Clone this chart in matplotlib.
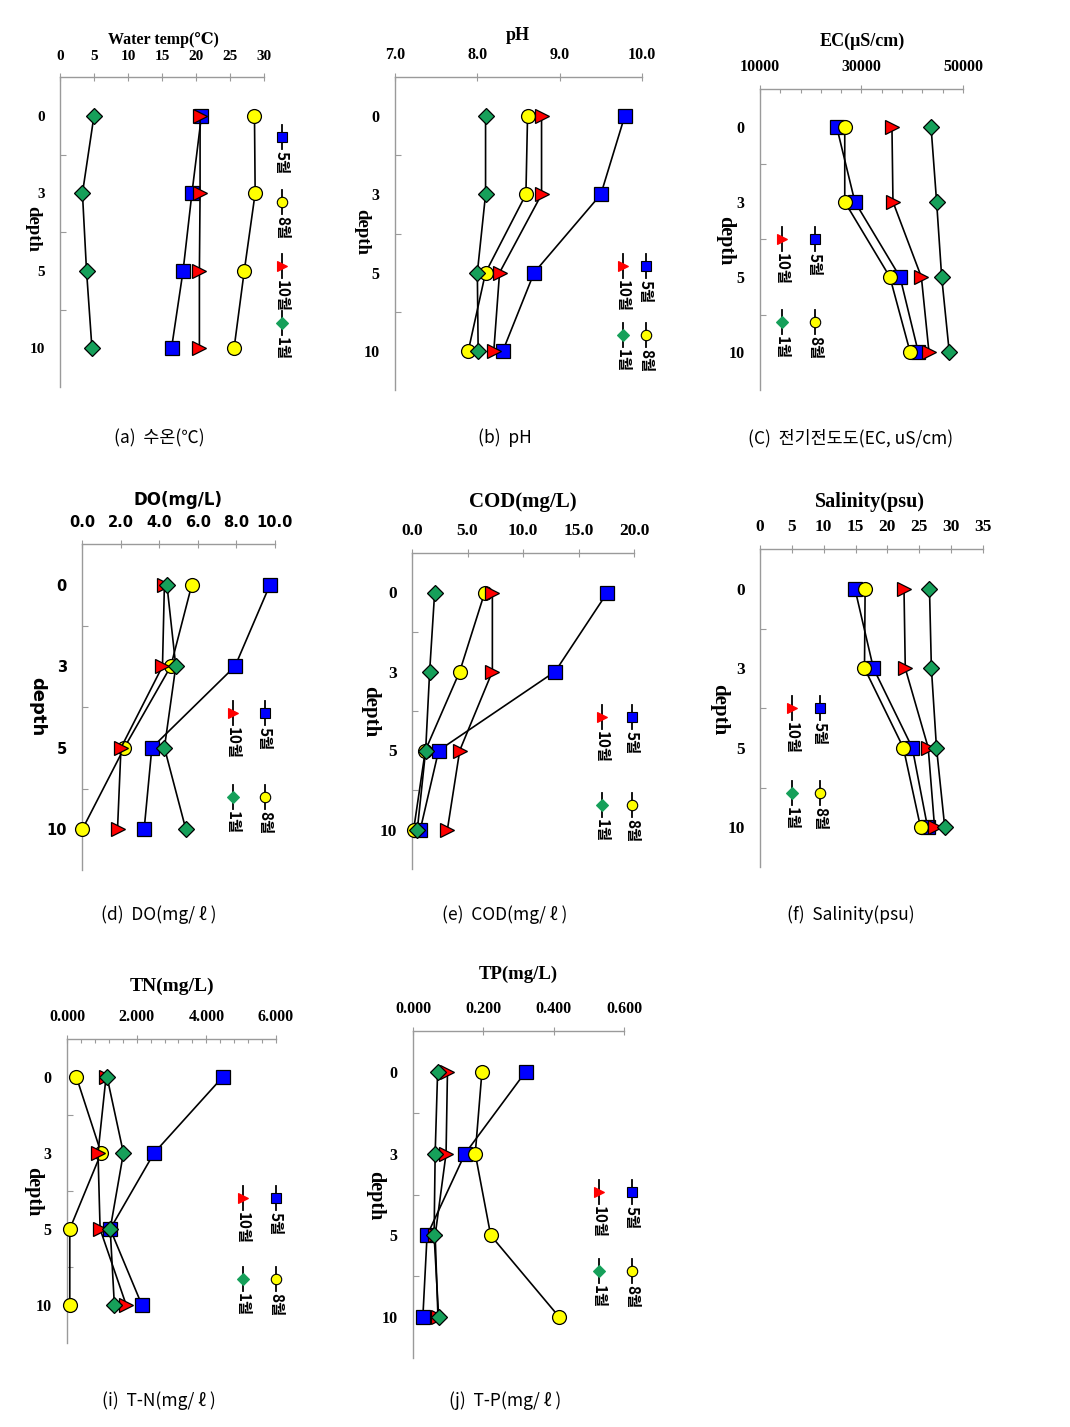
import matplotlib
matplotlib.use('Agg')
import matplotlib.pyplot as plt
import numpy as np

W, H = 1070, 1427
fig = plt.figure(figsize=(W / 100, H / 100), dpi=100)

# ---------------- data ----------------
depths = ['0', '3', '5', '10']
months = ['5월', '8월', '10월', '1월']

temp_may = [20.8, 19.4, 18.1, 16.4]
temp_aug = [28.6, 28.7, 27.1, 25.6]
temp_oct = [20.6, 20.6, 20.5, 20.5]
temp_jan = [5.0, 3.3, 3.9, 4.7]

ph_may = [9.79, 9.50, 8.69, 8.31]
ph_aug = [8.61, 8.59, 8.10, 7.89]
ph_oct = [8.78, 8.78, 8.27, 8.20]
ph_jan = [8.10, 8.10, 8.00, 8.01]

ec_may = [25100, 28700, 37600, 41200]
ec_aug = [26700, 26700, 35600, 39600]
ec_oct = [36000, 36200, 41800, 43300]
ec_jan = [43700, 44800, 45800, 47300]

do_may = [9.74, 7.93, 3.62, 3.22]
do_aug = [5.69, 4.60, 2.19, 0.02]
do_oct = [4.27, 4.17, 2.02, 1.84]
do_jan = [4.40, 4.86, 4.27, 5.38]

cod_may = [17.6, 12.9, 2.4, 0.75]
cod_aug = [6.55, 4.30, 1.20, 0.15]
cod_oct = [7.24, 7.24, 4.30, 3.19]
cod_jan = [2.04, 1.59, 1.23, 0.48]

sal_may = [14.9, 17.8, 23.9, 26.3]
sal_aug = [16.5, 16.4, 22.5, 25.2]
sal_oct = [22.6, 22.8, 26.4, 27.4]
sal_jan = [26.6, 26.9, 27.7, 29.0]

tn_may = [4.47, 2.50, 1.24, 2.15]
tn_aug = [0.27, 0.98, 0.08, 0.08]
tn_oct = [1.12, 0.89, 0.95, 1.70]
tn_jan = [1.15, 1.62, 1.24, 1.36]

tp_may = [0.320, 0.148, 0.040, 0.028]
tp_aug = [0.196, 0.177, 0.221, 0.416]
tp_oct = [0.098, 0.094, 0.063, 0.071]
tp_jan = [0.070, 0.063, 0.060, 0.073]

titles = ['Water temp(℃)', 'pH', 'EC(μS/cm)', 'DO(mg/L)', 'COD(mg/L)',
          'Salinity(psu)', 'TN(mg/L)', 'TP(mg/L)']
captions = ['(a)  수온(℃)', '(b)  pH', '(C)  전기전도도(EC, uS/cm)',
            '(d)  DO(mg/ ℓ )', '(e)  COD(mg/ ℓ )', '(f)  Salinity(psu)',
            '(i)  T-N(mg/ ℓ )', '(j)  T-P(mg/ ℓ )']
xtick_vals = [[0, 5, 10, 15, 20, 25, 30], [7.0, 8.0, 9.0, 10.0],
              [10000, 30000, 50000], [0, 2, 4, 6, 8, 10], [0, 5, 10, 15, 20],
              [0, 5, 10, 15, 20, 25, 30, 35], [0, 2, 4, 6], [0, 0.2, 0.4, 0.6]]
xtick_fmt = ['{:.0f}', '{:.1f}', '{:.0f}', '{:.1f}', '{:.1f}', '{:.0f}', '{:.3f}', '{:.3f}']

series = [
    [temp_may, temp_aug, temp_oct, temp_jan],
    [ph_may, ph_aug, ph_oct, ph_jan],
    [ec_may, ec_aug, ec_oct, ec_jan],
    [do_may, do_aug, do_oct, do_jan],
    [cod_may, cod_aug, cod_oct, cod_jan],
    [sal_may, sal_aug, sal_oct, sal_jan],
    [tn_may, tn_aug, tn_oct, tn_jan],
    [tp_may, tp_aug, tp_oct, tp_jan],
]

# ---------------- layout (pixels) ----------------
rects = [(60, 264, 77, 387), (395, 642, 77, 390), (760, 963, 89, 390),
         (82, 275, 544, 870), (412, 634, 553, 869), (760, 983, 549, 867),
         (67, 276, 1039, 1343), (413, 624, 1031, 1358)]
minor_x = [None, None, 4000, None, None, None, 0.4, None]
title_pos = [(163, 40), (518, 35), (862, 41), (178, 500), (523, 502),
             (870, 502), (172, 986), (518, 974)]
title_size = [11.5, 13, 13, 12, 15, 14.5, 14, 13.5]
tick_size = [11, 11.5, 11.5, 10.5, 12.5, 12.5, 11.5, 11.5]
depth_pos = [(33, 229), (362, 232), (725, 241), (37, 707), (370, 712),
             (719, 710), (33, 1192), (375, 1196)]
depth_size = [13.5, 13.5, 14.5, 13, 15, 15, 14.5, 14.5]
caption_pos = [(159, 438), (505, 438), (851, 438), (159, 915), (505, 915),
               (851, 915), (159, 1401), (505, 1401)]
sans_panel = 3  # DO panel uses a sans-serif face

serif = ['Liberation Serif', 'DejaVu Serif']
sans = ['DejaVu Sans']
kr = ['Noto Sans CJK KR', 'DejaVu Sans']

styles = [
    dict(marker='s', mfc='#0000ff', ms=9.5),
    dict(marker='o', mfc='#ffff00', ms=10),
    dict(marker='>', mfc='#ff0000', ms=10),
    dict(marker='D', mfc='#16a05a', ms=8),
]
leg_ms = [7, 7.5, 7, 6]

spine_col = '#9a9a9a'

for i, (L, R, T, B) in enumerate(rects):
    ax = fig.add_axes([L / W, 1 - B / H, (R - L) / W, (B - T) / H])
    fam = sans if i == sans_panel else serif
    for m, (vals, st) in enumerate(zip(series[i], styles)):
        ax.plot(vals, depths, color='black', lw=1.2, marker=st['marker'],
                ms=st['ms'], mfc=st['mfc'], mec='black', mew=0.9,
                zorder=3 + m, clip_on=False)
    lo, hi = xtick_vals[i][0], xtick_vals[i][-1]
    ax.set_xlim(lo, hi)
    ax.set_ylim(3.5, -0.5)
    ax.xaxis.tick_top()
    ax.set_xticks(xtick_vals[i])
    ax.set_xticklabels([xtick_fmt[i].format(v) for v in xtick_vals[i]],
                       fontfamily=fam, fontweight='bold', fontsize=tick_size[i])
    if minor_x[i]:
        ax.set_xticks(np.arange(lo, hi + minor_x[i] / 2, minor_x[i]), minor=True)
    ax.tick_params(axis='x', which='major', direction='inout', length=6,
                   width=0.8, color=spine_col, pad=7)
    ax.tick_params(axis='x', which='minor', direction='in', length=3,
                   width=0.8, color=spine_col, top=True, bottom=False)
    ax.set_yticks([0, 1, 2, 3])
    ax.set_yticklabels(depths, fontfamily=fam, fontweight='bold',
                       fontsize=tick_size[i])
    ax.set_yticks([0.5, 1.5, 2.5], minor=True)
    ax.tick_params(axis='y', which='major', length=0, pad=11)
    ax.tick_params(axis='y', which='minor', direction='in', length=4,
                   width=0.8, color=spine_col)
    for s in ['right', 'bottom']:
        ax.spines[s].set_visible(False)
    for s in ['left', 'top']:
        ax.spines[s].set_color(spine_col)
        ax.spines[s].set_linewidth(1.0)
    ax.patch.set_alpha(0)

# overlay in pixel coordinates for titles, labels, legends, captions
ov = fig.add_axes([0, 0, 1, 1])
ov.set_xlim(0, W)
ov.set_ylim(H, 0)
ov.axis('off')
ov.patch.set_alpha(0)

for i in range(len(rects)):
    fam = sans if i == sans_panel else serif
    ov.text(*title_pos[i], titles[i], ha='center', va='center',
            fontfamily=fam, fontweight='bold', fontsize=title_size[i])
    ov.text(*depth_pos[i], 'depth', ha='center', va='center', rotation=-90,
            fontfamily=fam, fontweight='bold', fontsize=depth_size[i])
    ov.text(*caption_pos[i], captions[i], ha='center', va='center',
            fontfamily=kr, fontsize=12.5)


def legend_entry(x, y, idx, fs=11):
    st = styles[idx]
    ov.plot([x, x], [y - 12, y + 12], color='black', lw=1.3)
    ov.plot([x], [y], marker=st['marker'], ms=leg_ms[idx], mfc=st['mfc'],
            mec='black' if idx < 2 else st['mfc'], mew=0.8, color='black')
    ov.text(x, y + 14, months[idx], rotation=-90, ha='center', va='top',
            fontfamily=kr, fontweight='bold', fontsize=fs)


# one-column legend for the temperature panel
for idx, y in enumerate([137, 202, 266, 323]):
    legend_entry(282, y, idx)

# two-by-two legends: (x right, x left, y top, y bottom)
legs = [(646, 623, 266, 335), (815, 782, 239, 322), (265, 233, 713, 797),
        (632, 602, 717, 805), (820, 792, 708, 793), (276, 243, 1198, 1279),
        (632, 599, 1192, 1271)]
for xr, xl, y1, y2 in legs:
    legend_entry(xr, y1, 0)
    legend_entry(xr, y2, 1)
    legend_entry(xl, y1, 2)
    legend_entry(xl, y2, 3)

fig.savefig('out.png', dpi=100, facecolor='white')
